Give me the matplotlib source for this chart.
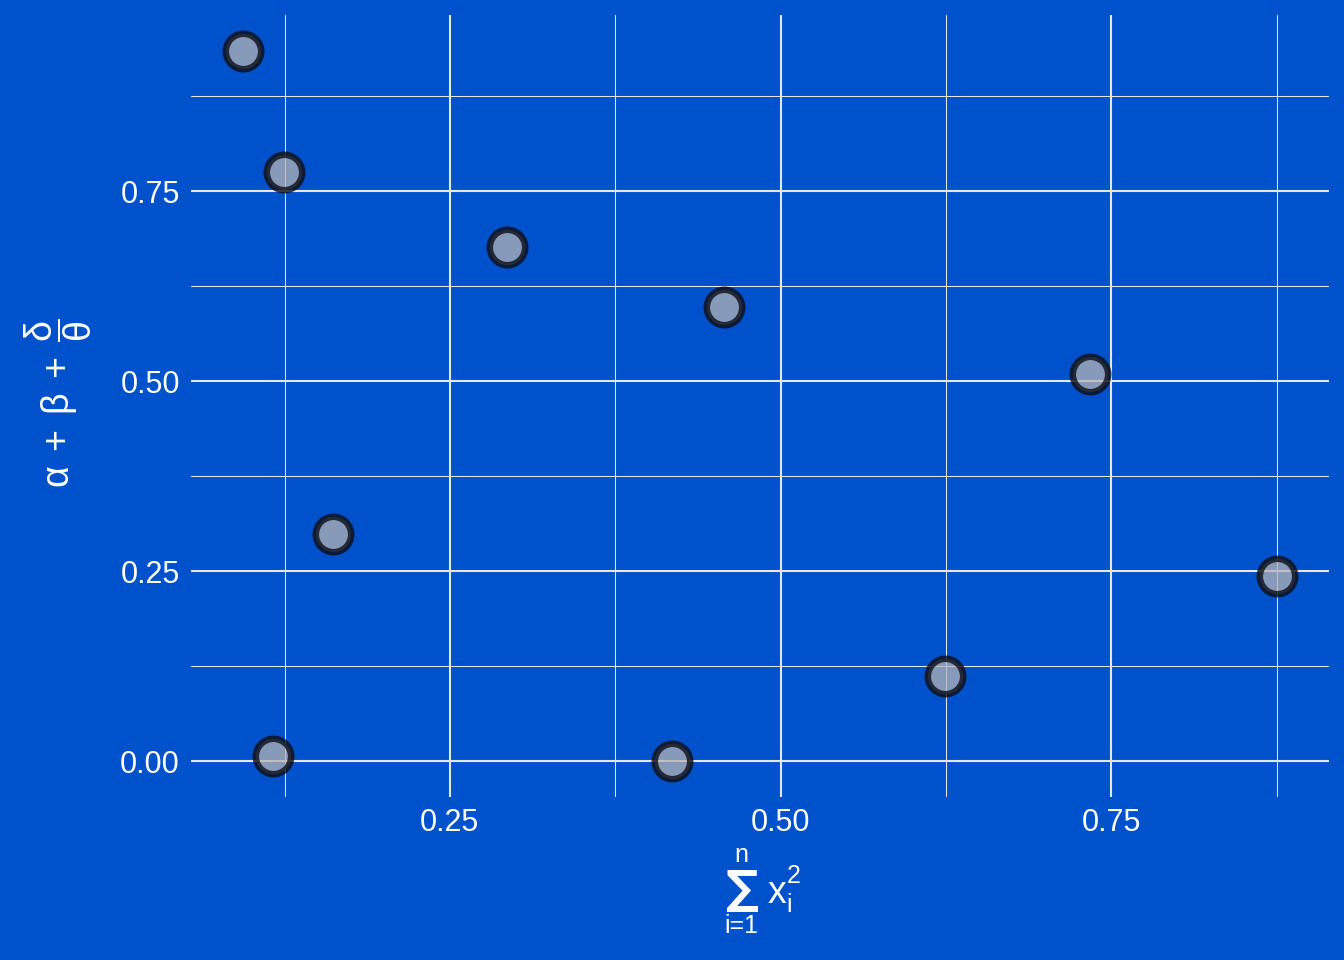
import matplotlib
matplotlib.use("Agg")
import matplotlib.pyplot as plt
from matplotlib.ticker import FixedLocator

plt.rcParams['font.family'] = ['Liberation Sans', 'DejaVu Sans']
plt.rcParams['mathtext.fontset'] = 'custom'
plt.rcParams['mathtext.rm'] = 'Liberation Sans'
plt.rcParams['mathtext.it'] = 'Liberation Sans'
plt.rcParams['mathtext.bf'] = 'Liberation Sans:bold'

# data
x_vals = [0.0934, 0.1244, 0.1615, 0.1161, 0.2931, 0.4180, 0.4573, 0.6244, 0.7341, 0.8755]
y_vals = [0.9355, 0.7750, 0.2987, 0.0066, 0.6763, 0.0000, 0.5974, 0.1118, 0.5092, 0.2434]
x_ticks = [0.25, 0.50, 0.75]
y_ticks = [0.00, 0.25, 0.50, 0.75]
x_minor = [0.125, 0.375, 0.625, 0.875]
y_minor = [0.125, 0.375, 0.625, 0.875]

bg = '#0052CC'
W, H = 1344, 960

fig = plt.figure(figsize=(W / 100, H / 100), dpi=100, facecolor=bg)
ax = fig.add_axes([0.1421, 0.1702, 0.8467, 0.8142])
ax.set_facecolor(bg)

ax.scatter(x_vals, y_vals, s=650, facecolor=(0.71, 0.70, 0.71, 0.75),
           edgecolor=(0.05, 0.05, 0.08, 0.8), linewidth=4.7, zorder=3)

xr = max(x_vals) - min(x_vals)
yr = max(y_vals) - min(y_vals)
ax.set_xlim(min(x_vals) - 0.05 * xr, max(x_vals) + 0.05 * xr)
ax.set_ylim(min(y_vals) - 0.05 * yr, max(y_vals) + 0.05 * yr)

ax.xaxis.set_major_locator(FixedLocator(x_ticks))
ax.yaxis.set_major_locator(FixedLocator(y_ticks))
ax.xaxis.set_minor_locator(FixedLocator(x_minor))
ax.yaxis.set_minor_locator(FixedLocator(y_minor))
ax.set_xticklabels(['%.2f' % v for v in x_ticks])
ax.set_yticklabels(['%.2f' % v for v in y_ticks])

ax.grid(which='major', color='#e6e6e6', linewidth=1.5, zorder=0)
ax.grid(which='minor', color='#e6e6e6', linewidth=0.75, zorder=0)
ax.set_axisbelow(True)

ax.tick_params(which='both', length=0, colors='white', labelsize=22, pad=8)
for s in ax.spines.values():
    s.set_visible(False)

# x title: sum with limits, built from pieces (baseline positions in pixels)
def ftext(px, py, s, size, **kw):
    fig.text(px / W, 1 - py / H, s, color='white', fontsize=size,
             ha='center', va='baseline', **kw)

ftext(741, 902, '\u2211', 33, family='DejaVu Sans', fontweight='bold')
ftext(741, 862, 'n', 18)
ftext(741, 933, 'i=1', 18)
ftext(777, 903, 'x', 27)
ftext(794, 883, '2', 18)
ftext(789, 912, 'i', 18)

# y title
fig.text(58 / W, 1 - 403 / H, r'$\alpha\;+\;\beta\;+\;\dfrac{\delta}{\theta}$',
         color='white', fontsize=27, rotation=90, ha='center', va='center')

fig.savefig('out.png', dpi=100, facecolor=bg)
